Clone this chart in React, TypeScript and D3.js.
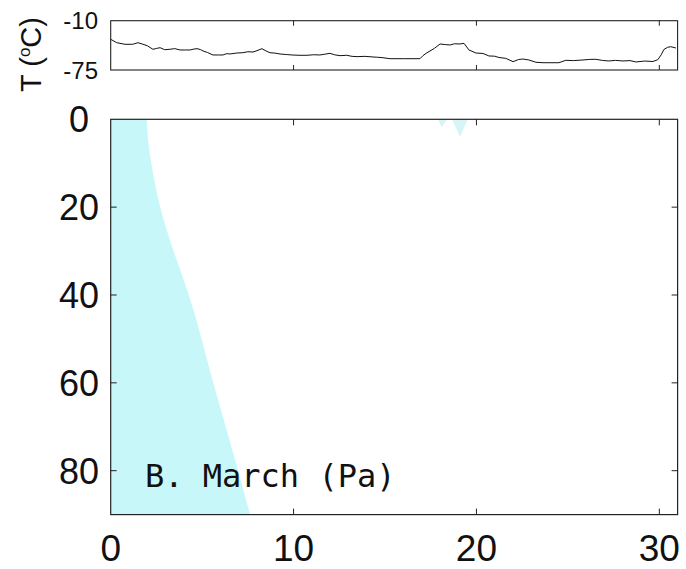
import React from "react";
import * as d3 from "d3";

// Top panel: air temperature (°C) vs day of month
const tempDays = [0, 0.33, 0.78, 1.2, 1.49, 1.77, 2.0, 2.31, 2.5, 2.7, 2.95, 3.24, 3.5, 3.79, 4.1, 4.34, 4.55, 4.72, 4.9, 5.05, 5.3, 5.59, 5.9, 6.14, 6.35, 6.52, 6.9, 7.23, 7.5, 7.78, 8.0, 8.27, 8.5, 8.71, 9.0, 9.26, 9.6, 9.91, 10.3, 10.73, 11.1, 11.44, 11.7, 11.99, 12.25, 12.54, 12.9, 13.2, 13.47, 13.9, 14.34, 14.6, 14.89, 15.27, 16.0, 16.91, 17.08, 17.25, 17.46, 17.7, 18.01, 18.3, 18.56, 18.8, 19.1, 19.32, 19.59, 19.97, 20.36, 20.68, 21.0, 21.23, 21.6, 22.0, 22.3, 22.54, 22.87, 23.25, 23.64, 24.51, 24.89, 25.3, 25.82, 26.2, 26.53, 26.9, 27.24, 27.6, 28.01, 28.4, 28.72, 29.2, 29.65, 29.92, 30.1, 30.25, 30.45, 30.63, 30.91];
const tempVals = [-34.5, -39.0, -41.1, -41.1, -39.0, -41.1, -43.0, -47.7, -46.6, -45.6, -48.2, -47.7, -46.8, -48.6, -48.6, -48.6, -47.4, -46.9, -48.0, -49.9, -52.0, -55.2, -55.2, -55.2, -53.4, -53.9, -52.6, -52.2, -50.9, -51.3, -49.5, -46.9, -50.0, -52.2, -52.8, -53.9, -54.6, -55.2, -55.6, -55.6, -54.9, -55.2, -54.2, -53.0, -55.0, -56.1, -55.6, -57.0, -57.4, -57.0, -57.8, -58.2, -58.8, -60.1, -60.1, -60.1, -56.0, -53.0, -49.9, -46.5, -40.7, -41.5, -42.0, -40.4, -40.7, -39.8, -48.6, -52.6, -53.2, -56.5, -56.8, -58.5, -59.6, -64.0, -61.2, -60.5, -61.8, -64.8, -65.4, -65.4, -62.2, -62.6, -61.8, -61.0, -60.9, -62.4, -63.1, -62.3, -63.1, -62.6, -64.4, -63.2, -63.8, -61.4, -55.0, -48.0, -45.1, -44.3, -46.0];

// Main panel: shaded region boundary (day) as a function of depth
const shadeDepths = [0, 5, 10.8, 20, 30, 40, 48, 60.2, 70.9, 80.1, 90];
const shadeDays = [1.97, 2.03, 2.24, 2.66, 3.42, 4.3, 4.85, 5.61, 6.35, 6.98, 7.62];

// small patch near day 18-19.5 at the surface
const patchDays = [17.9, 18.1, 18.4, 18.66, 19.1, 19.53];
const patchDepths = [0, 1.8, 0, 0, 4.0, 0];

const xTicks = [0, 10, 20, 30];
const yTicks = [0, 20, 40, 60, 80];
const tTickLabels = ["-10", "-75"];
const tDomain = [-10, -75];
const panelLabel = "B. March (Pa)";

export default function App() {
  const W = 686, H = 569;
  const xL = 110.7, xR = 677.6;
  const x = d3.scaleLinear().domain([0, 31]).range([xL, xR]);
  const y = d3.scaleLinear().domain([0, 90]).range([119.3, 514.6]);
  const yT = d3.scaleLinear().domain(tDomain).range([20.7, 70]);

  const area = d3
    .area<number>()
    .y((_, i) => y(shadeDepths[i]))
    .x0(() => x(0))
    .x1((d) => x(d))
    .curve(d3.curveBasis);
  const shadePath = area(shadeDays) || "";

  const patchPath =
    d3
      .line<number>()
      .x((d) => x(d))
      .y((_, i) => y(patchDepths[i]))(patchDays) + "Z";

  const tLine = d3
    .line<number>()
    .x((d) => x(d))
    .y((_, i) => yT(tempVals[i]))(tempDays) || "";

  const axisColor = "#222";
  const tickLen = 6;
  const font = "'Liberation Sans', Arial, sans-serif";

  return (
    <svg
      width={W}
      height={H}
      style={{ position: "absolute", left: 0, top: 0, background: "#fff" }}
    >
      <rect x={0} y={0} width={W} height={H} fill="#fff" />
      {/* Top panel */}
      <path d={tLine} fill="none" stroke="#111" strokeWidth={1} />
      <rect
        x={xL}
        y={yT(-10)}
        width={xR - xL}
        height={yT(-75) - yT(-10)}
        fill="none"
        stroke={axisColor}
        strokeWidth={1.1}
      />
      {xTicks.slice(1).map((t) => (
        <g key={"tt" + t}>
          <line x1={x(t)} x2={x(t)} y1={yT(-10)} y2={yT(-10) + 5} stroke={axisColor} />
          <line x1={x(t)} x2={x(t)} y1={yT(-75)} y2={yT(-75) - 5} stroke={axisColor} />
        </g>
      ))}
      {tTickLabels.map((s, i) => (
        <text
          key={s}
          x={98}
          y={yT(tDomain[i])}
          dy="0.36em"
          textAnchor="end"
          fontFamily={font}
          fontSize={24}
          fill="#111"
        >
          {s}
        </text>
      ))}
      <text
        transform="translate(41,92) rotate(-90)"
        fontFamily={font}
        fontSize={29}
        fill="#111"
      >
        T (
        <tspan dy={-11} fontSize={17}>
          o
        </tspan>
        <tspan dy={11}>C)</tspan>
      </text>

      {/* Main panel */}
      <path d={shadePath} fill="#c8f7fa" stroke="none" />
      <path d={patchPath} fill="#d6f5f8" stroke="none" />
      <rect
        x={xL}
        y={y(0)}
        width={xR - xL}
        height={y(90) - y(0)}
        fill="none"
        stroke={axisColor}
        strokeWidth={1.2}
      />
      {xTicks.slice(1).map((t) => (
        <g key={"mx" + t}>
          <line x1={x(t)} x2={x(t)} y1={y(0)} y2={y(0) + tickLen} stroke={axisColor} />
          <line x1={x(t)} x2={x(t)} y1={y(90)} y2={y(90) - tickLen} stroke={axisColor} />
        </g>
      ))}
      {yTicks.slice(1).map((t) => (
        <g key={"my" + t}>
          <line x1={xL} x2={xL + tickLen} y1={y(t)} y2={y(t)} stroke={axisColor} />
          <line x1={xR} x2={xR - tickLen} y1={y(t)} y2={y(t)} stroke={axisColor} />
        </g>
      ))}
      {yTicks.map((t) => (
        <text
          key={"yl" + t}
          x={t === 0 ? 89 : 99}
          y={y(t)}
          dy="0.36em"
          textAnchor="end"
          fontFamily={font}
          fontSize={36}
          fill="#111"
        >
          {t}
        </text>
      ))}
      {xTicks.map((t) => (
        <text
          key={"xl" + t}
          x={x(t)}
          y={561}
          textAnchor="middle"
          fontFamily={font}
          fontSize={37}
          fill="#111"
        >
          {t}
        </text>
      ))}
      <text
        x={145}
        y={487}
        fontFamily="'DejaVu Sans Mono', 'Liberation Mono', monospace"
        fontSize={32}
        fill="#111"
      >
        {panelLabel}
      </text>
    </svg>
  );
}
